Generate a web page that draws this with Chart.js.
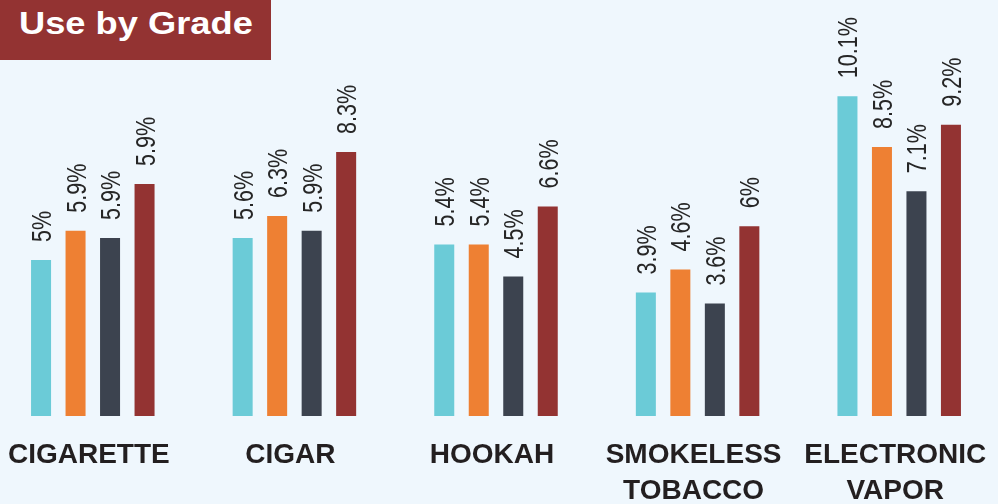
<!DOCTYPE html>
<html>
<head>
<meta charset="utf-8">
<script src="https://cdn.jsdelivr.net/npm/chart.js@4.4.1/dist/chart.umd.min.js"></script>
<style>
  html, body { margin: 0; padding: 0; width: 998px; height: 504px; overflow: hidden; background: #eff7fd; }
  #c { position: absolute; left: -8px; top: 0; }
  #titlebox { position: absolute; left: 0; top: 0; width: 271px; height: 60px; background: #933332; }
  #title { position: absolute; left: 19px; top: 0; color: #ffffff; font: bold 31px "Liberation Sans", Arial, sans-serif;
           line-height: 48px; white-space: nowrap; transform: scaleX(1.17); transform-origin: 0 0; }
</style>
</head>
<body>
<canvas id="c" width="1008" height="504" style="width:1008px;height:504px"></canvas>
<div id="titlebox"><div id="title">Use by Grade</div></div>
<script>
// Categories (tick labels)
const categories = [['CIGARETTE'], ['CIGAR'], ['HOOKAH'], ['SMOKELESS', 'TOBACCO'], ['ELECTRONIC', 'VAPOR']];
const seriesNames = ['Grade 9', 'Grade 10', 'Grade 11', 'Grade 12'];

// Bar heights (%)
const grade9Values  = [4.93, 5.62, 5.42, 3.90, 10.10];
const grade10Values = [5.85, 6.32, 5.42, 4.63, 8.50];
const grade11Values = [5.62, 5.85, 4.41, 3.55, 7.10];
const grade12Values = [7.33, 8.34, 6.62, 5.99, 9.20];

// Value labels as printed on the picture
const grade9Labels  = ['5%', '5.6%', '5.4%', '3.9%', '10.1%'];
const grade10Labels = ['5.9%', '6.3%', '5.4%', '4.6%', '8.5%'];
const grade11Labels = ['5.9%', '5.9%', '4.5%', '3.6%', '7.1%'];
const grade12Labels = ['5.9%', '8.3%', '6.6%', '6%', '9.2%'];

const colors = ['#6bcbd7', '#ee8033', '#3c434f', '#933332'];
const allValues = [grade9Values, grade10Values, grade11Values, grade12Values];
const allLabels = [grade9Labels, grade10Labels, grade11Labels, grade12Labels];

const valueLabelPlugin = {
  id: 'valueLabels',
  afterDatasetsDraw(chart) {
    const ctx = chart.ctx;
    chart.data.datasets.forEach((ds, di) => {
      const meta = chart.getDatasetMeta(di);
      meta.data.forEach((bar, i) => {
        const txt = allLabels[di][i];
        ctx.save();
        ctx.translate(bar.x, bar.y - 18);
        ctx.rotate(-Math.PI / 2);
        ctx.scale(0.77, 1);
        ctx.font = '28px "Liberation Sans", Arial, sans-serif';
        ctx.fillStyle = '#262626';
        ctx.textAlign = 'left';
        ctx.textBaseline = 'alphabetic';
        ctx.fillText(txt, 0, 10);
        ctx.restore();
      });
    });
  }
};

new Chart(document.getElementById('c'), {
  type: 'bar',
  data: {
    labels: categories,
    datasets: allValues.map((vals, k) => ({
      label: seriesNames[k],
      data: vals,
      backgroundColor: colors[k],
      borderWidth: 0,
      barPercentage: 0.58,
      categoryPercentage: 0.6845
    }))
  },
  options: {
    responsive: false,
    maintainAspectRatio: false,
    devicePixelRatio: 1,
    animation: false,
    layout: { padding: 0, autoPadding: false },
    plugins: { legend: { display: false }, tooltip: { enabled: false }, title: { display: false } },
    scales: {
      x: {
        grid: { display: false, drawTicks: false },
        border: { display: false },
        afterFit: (axis) => { axis.height = 88; axis.paddingLeft = 0; axis.paddingRight = 0; },
        ticks: {
          autoSkip: false,
          maxRotation: 0,
          padding: 21,
          labelOffset: -4,
          color: '#231f20',
          font: { family: '"Liberation Sans", Arial, sans-serif', size: 28, weight: 'bold', lineHeight: 36 / 28 }
        }
      },
      y: {
        display: false,
        min: 0,
        max: 13.14
      }
    }
  },
  plugins: [valueLabelPlugin]
});
</script>
</body>
</html>
